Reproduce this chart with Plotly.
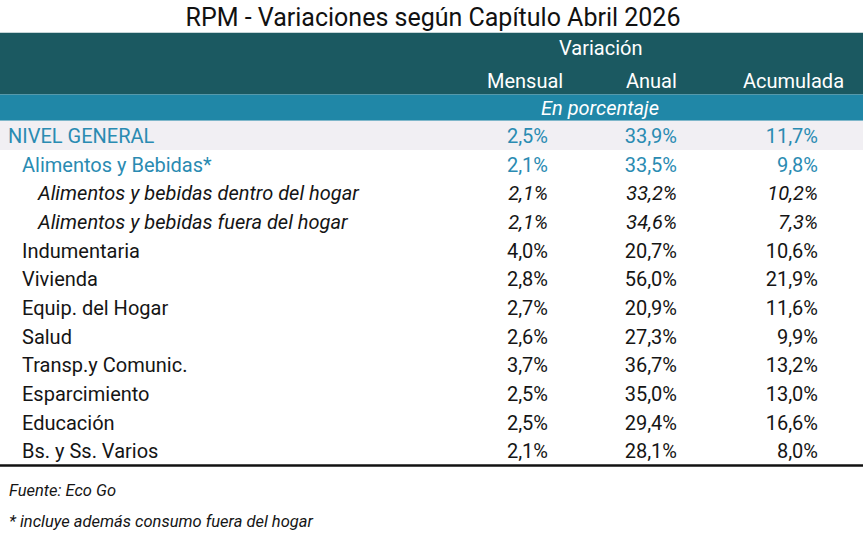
import plotly.graph_objects as go

# ---------------- data ----------------
title = "RPM - Variaciones según Capítulo Abril 2026"
group_header = "Variación"
unit_header = "En porcentaje"
columns = ["Mensual", "Anual", "Acumulada"]
categories = [
    "NIVEL GENERAL",
    "Alimentos y Bebidas*",
    "Alimentos y bebidas dentro del hogar",
    "Alimentos y bebidas fuera del hogar",
    "Indumentaria",
    "Vivienda",
    "Equip. del Hogar",
    "Salud",
    "Transp.y Comunic.",
    "Esparcimiento",
    "Educación",
    "Bs. y Ss. Varios",
]
levels = [0, 1, 2, 2, 1, 1, 1, 1, 1, 1, 1, 1]
mensual = [2.5, 2.1, 2.1, 2.1, 4.0, 2.8, 2.7, 2.6, 3.7, 2.5, 2.5, 2.1]
anual = [33.9, 33.5, 33.2, 34.6, 20.7, 56.0, 20.9, 27.3, 36.7, 35.0, 29.4, 28.1]
acumulada = [11.7, 9.8, 10.2, 7.3, 10.6, 21.9, 11.6, 9.9, 13.2, 13.0, 16.6, 8.0]
source = "Fuente: Eco Go"
footnote = "* incluye además consumo fuera del hogar"

# ---------------- style ----------------
W, H = 866, 540
FONT = "Roboto, 'Liberation Sans', Arial, sans-serif"
DARK = "#1B5961"
LIGHT = "#2087A7"
GRAY = "#F1EFF3"
TEAL = "#2A8BB2"
INK = "#151515"
ROW_PX = 28.65         # pixel height of one row
FIRST_ROW_PX = 138     # pixel position of first data row
y_top = -FIRST_ROW_PX / ROW_PX
y_bottom = y_top + H / ROW_PX

indent_px = {0: 8, 1: 22, 2: 38}
col_right = {"Mensual": 548, "Anual": 677, "Acumulada": 818}
col_center = {"Mensual": 525, "Anual": 651, "Acumulada": 793}
group_center = 600
table_right = 863


def px_to_y(p):
    return (p - FIRST_ROW_PX) / ROW_PX


rows = list(range(len(categories)))
row_colors = [TEAL if i < 2 else INK for i, lv in enumerate(levels)]
row_styles = ["italic" if lv == 2 else "normal" for lv in levels]


def fmt(v):
    return f"{v:.1f}%".replace(".", ",")


fig = go.Figure()

# labels
fig.add_trace(go.Scatter(
    x=[indent_px[lv] for lv in levels], y=rows, mode="text",
    text=categories, textposition="middle right",
    textfont=dict(family=FONT, size=20, color=row_colors, style=row_styles),
    hoverinfo="skip", showlegend=False,
))

# value columns
for name, vals in zip(columns, [mensual, anual, acumulada]):
    fig.add_trace(go.Scatter(
        x=[col_right[name]] * len(vals), y=rows, mode="text",
        text=[fmt(v) for v in vals], textposition="middle left",
        textfont=dict(family=FONT, size=20, color=row_colors, style=row_styles),
        hoverinfo="skip", showlegend=False,
    ))

shapes = [
    dict(type="rect", xref="x", yref="y", x0=0, x1=table_right,
         y0=px_to_y(32.7), y1=px_to_y(94.5), fillcolor=DARK, line_width=0, layer="below"),
    dict(type="rect", xref="x", yref="y", x0=0, x1=table_right,
         y0=px_to_y(94.5), y1=px_to_y(120.8), fillcolor=LIGHT, line_width=0, layer="below"),
    dict(type="rect", xref="x", yref="y", x0=0, x1=table_right,
         y0=px_to_y(120.8), y1=px_to_y(150), fillcolor=GRAY, line_width=0, layer="below"),
    dict(type="line", xref="x", yref="y", x0=0, x1=table_right,
         y0=px_to_y(465.5), y1=px_to_y(465.5),
         line=dict(color="#111111", width=2.7)),
]

annotations = [
    dict(x=group_center, y=px_to_y(48), xref="x", yref="y", text=group_header,
         showarrow=False, font=dict(family=FONT, size=20, color="white")),
    dict(x=group_center, y=px_to_y(107.5), xref="x", yref="y", text=unit_header,
         showarrow=False, font=dict(family=FONT, size=20, color="white", style="italic")),
]
for name in columns:
    annotations.append(dict(
        x=col_center[name], y=px_to_y(81), xref="x", yref="y", text=name,
        showarrow=False, font=dict(family=FONT, size=20, color="white")))

annotations += [
    dict(x=7, y=1 - 490 / H, xref="x", yref="paper", text=source,
         xanchor="left", yanchor="middle",
         showarrow=False, font=dict(family=FONT, size=16.5, color=INK, style="italic")),
    dict(x=7, y=1 - 521 / H, xref="x", yref="paper", text=footnote,
         xanchor="left", yanchor="middle",
         showarrow=False, font=dict(family=FONT, size=16.5, color=INK, style="italic")),
]

fig.update_layout(
    width=W, height=H,
    margin=dict(l=0, r=0, t=0, b=0),
    paper_bgcolor="white", plot_bgcolor="white",
    title=dict(text=title, x=0.5, xanchor="center", y=1 - 17 / H, yanchor="middle",
               font=dict(family=FONT, size=25, color="#111111")),
    xaxis=dict(range=[0, W], visible=False, fixedrange=True),
    yaxis=dict(range=[y_bottom, y_top], visible=False, fixedrange=True),
    shapes=shapes, annotations=annotations,
)

fig.write_html(
    "out.html",
    config={"displayModeBar": False},
    post_script="document.body.style.margin='0px';",
)
